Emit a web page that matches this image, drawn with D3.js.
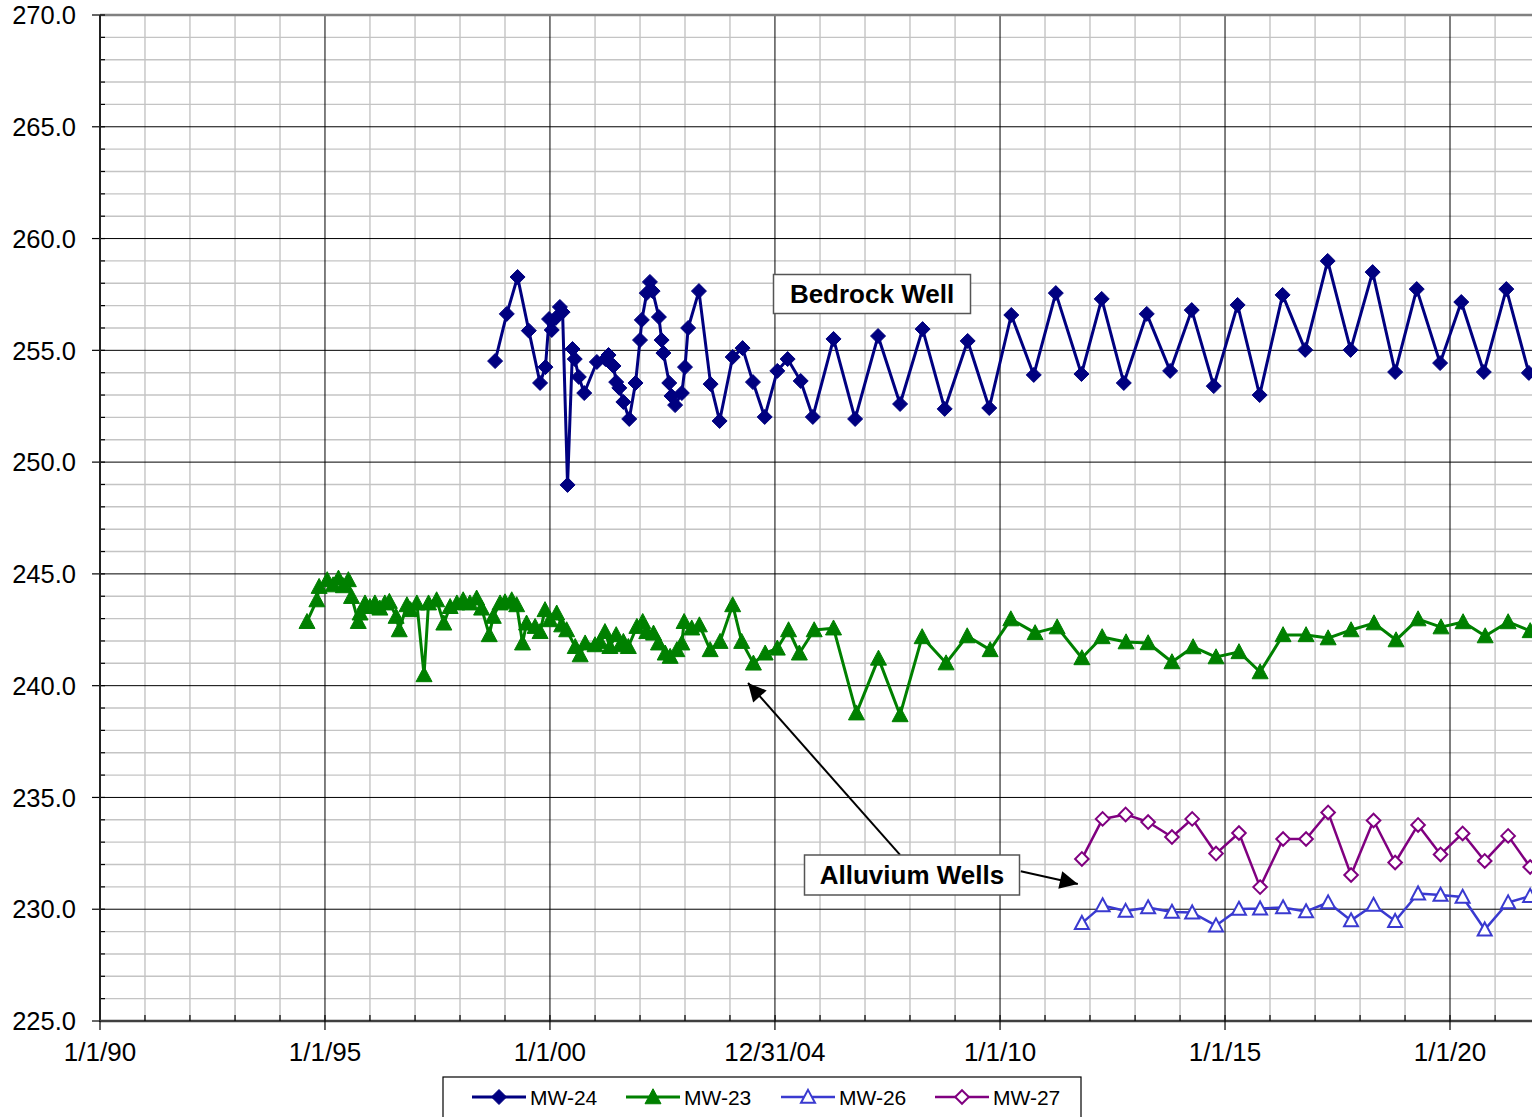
<!DOCTYPE html>
<html><head><meta charset="utf-8">
<script src="https://cdn.jsdelivr.net/npm/d3@7"></script>
<style>body{margin:0;background:#fff;overflow:hidden} svg{display:block}</style>
</head><body><svg id="c" width="1532" height="1117"></svg>
<script>
// ---------------- DATA ----------------
const seriesNames = ["MW-24", "MW-23", "MW-26", "MW-27"];

// decimal year of each measurement
const mw24Time = [1998.78,1999.04,1999.28,1999.53,1999.78,1999.90,1999.98,2000.04,2000.13,2000.22,2000.28,2000.39,2000.50,2000.55,2000.64,2000.76,2001.04,2001.23,2001.30,2001.41,2001.47,2001.54,2001.63,2001.76,2001.90,2002.00,2002.04,2002.15,2002.22,2002.28,2002.42,2002.48,2002.52,2002.65,2002.70,2002.78,2002.93,2003.00,2003.07,2003.31,2003.57,2003.77,2004.06,2004.28,2004.51,2004.77,2005.05,2005.28,2005.57,2005.84,2006.30,2006.78,2007.29,2007.78,2008.28,2008.77,2009.28,2009.76,2010.25,2010.75,2011.24,2011.81,2012.26,2012.75,2013.26,2013.78,2014.26,2014.75,2015.28,2015.77,2016.28,2016.78,2017.28,2017.79,2018.28,2018.78,2019.26,2019.78,2020.25,2020.75,2021.25,2021.75];
const mw24Level = [254.52,256.63,258.28,255.88,253.54,254.25,256.40,255.91,256.45,256.94,256.71,248.98,255.06,254.61,253.81,253.09,254.48,254.61,254.79,254.30,253.58,253.32,252.69,251.93,253.54,255.46,256.36,257.56,258.06,257.65,256.49,255.46,254.88,253.54,252.96,252.55,253.09,254.25,256.00,257.65,253.49,251.84,254.70,255.10,253.58,252.02,254.08,254.61,253.63,252.02,255.51,251.93,255.64,252.60,255.95,252.38,255.42,252.42,256.58,253.90,257.56,253.94,257.30,253.54,256.63,254.08,256.80,253.40,257.03,253.00,257.48,255.02,259.00,255.02,258.50,254.03,257.74,254.43,257.16,254.03,257.74,253.99];

const mw23Time = [1994.60,1994.82,1994.87,1995.05,1995.18,1995.30,1995.41,1995.52,1995.59,1995.74,1995.78,1995.89,1996.00,1996.11,1996.22,1996.33,1996.43,1996.58,1996.65,1996.82,1996.90,1997.04,1997.20,1997.30,1997.48,1997.64,1997.78,1997.93,1998.07,1998.22,1998.37,1998.48,1998.65,1998.74,1998.89,1999.00,1999.15,1999.26,1999.39,1999.48,1999.67,1999.78,1999.89,2000.00,2000.15,2000.26,2000.37,2000.56,2000.67,2000.78,2001.00,2001.11,2001.22,2001.33,2001.47,2001.56,2001.63,2001.74,2001.93,2002.06,2002.15,2002.30,2002.41,2002.56,2002.67,2002.82,2002.93,2002.98,2003.15,2003.32,2003.56,2003.78,2004.06,2004.26,2004.52,2004.78,2005.05,2005.30,2005.54,2005.87,2006.30,2006.81,2007.30,2007.78,2008.27,2008.80,2009.27,2009.78,2010.24,2010.78,2011.27,2011.82,2012.27,2012.80,2013.29,2013.82,2014.29,2014.80,2015.31,2015.78,2016.29,2016.80,2017.29,2017.80,2018.31,2018.80,2019.29,2019.80,2020.29,2020.78,2021.29,2021.78];
const mw23Level = [242.86,243.83,244.43,244.73,244.50,244.80,244.46,244.73,243.98,242.86,243.24,243.69,243.53,243.69,243.46,243.69,243.76,243.09,242.49,243.61,243.39,243.69,240.48,243.69,243.83,242.79,243.53,243.69,243.83,243.69,243.91,243.46,242.27,243.09,243.69,243.74,243.83,243.61,241.90,242.79,242.64,242.41,243.39,242.94,243.24,242.71,242.49,241.74,241.37,241.90,241.82,241.97,242.41,241.74,242.27,241.82,241.97,241.74,242.64,242.86,242.41,242.34,241.90,241.45,241.30,241.60,241.90,242.86,242.57,242.71,241.60,241.97,243.61,241.97,241.00,241.45,241.67,242.49,241.45,242.49,242.57,238.77,241.22,238.69,242.18,241.01,242.22,241.60,242.98,242.36,242.62,241.24,242.18,241.95,241.91,241.06,241.73,241.28,241.51,240.61,242.27,242.27,242.13,242.49,242.80,242.04,242.98,242.62,242.85,242.22,242.85,242.45];

const mw26Time = [2011.82,2012.28,2012.79,2013.29,2013.82,2014.27,2014.80,2015.31,2015.78,2016.29,2016.80,2017.29,2017.80,2018.30,2018.78,2019.29,2019.79,2020.28,2020.77,2021.29,2021.78];
const mw26Level = [229.38,230.17,229.92,230.08,229.88,229.85,229.27,230.01,230.03,230.08,229.90,230.30,229.50,230.19,229.47,230.70,230.64,230.55,229.09,230.30,230.59];

const mw27Time = [2011.82,2012.28,2012.79,2013.29,2013.82,2014.27,2014.80,2015.31,2015.78,2016.29,2016.80,2017.29,2017.80,2018.30,2018.78,2019.29,2019.79,2020.28,2020.77,2021.29,2021.78];
const mw27Level = [232.25,234.04,234.24,233.90,233.23,234.04,232.49,233.41,230.99,233.14,233.14,234.33,231.53,233.97,232.09,233.77,232.45,233.39,232.16,233.28,231.89];

const xTickDates = ["1990-01-01","1995-01-01","2000-01-01","2004-12-31","2010-01-01","2015-01-01","2020-01-01"];
const xTickLabels = ["1/1/90","1/1/95","1/1/00","12/31/04","1/1/10","1/1/15","1/1/20"];
const yTickValues = [225,230,235,240,245,250,255,260,265,270];

// ---------------- SETUP ----------------
function decDate(y){
  const yr = Math.floor(y);
  const s = new Date(yr,0,1), e = new Date(yr+1,0,1);
  return new Date(+s + (y-yr)*(e-s));
}
function parseD(s){ const p = s.split("-").map(Number); return new Date(p[0],p[1]-1,p[2]); }

const L = 100, R = 1532, T = 15, B = 1021;
const svg = d3.select("#c");
const x = d3.scaleTime().domain([new Date(1990,0,1), new Date(2020,0,1)]).range([L, 1450]);
const y = d3.scaleLinear().domain([225,270]).range([B, T]);
const FONT = "Liberation Sans, Arial, sans-serif";

// grid - minor horizontal
const minorY = d3.range(226, 270).filter(v => v % 5 !== 0);
svg.append("g").selectAll("line").data(minorY).join("line")
  .attr("x1", L).attr("x2", R).attr("y1", d => y(d)).attr("y2", d => y(d))
  .attr("stroke", "#c4c4c4").attr("stroke-width", 1.4);
// grid - minor vertical (yearly)
const minorX = d3.range(1991, 2022).filter(v => v % 5 !== 0).map(v => new Date(v,0,1));
svg.append("g").selectAll("line").data(minorX).join("line")
  .attr("x1", d => x(d)).attr("x2", d => x(d)).attr("y1", T).attr("y2", B)
  .attr("stroke", "#c4c4c4").attr("stroke-width", 1.4);
// grid - major horizontal
svg.append("g").selectAll("line").data(yTickValues.filter(v => v > 225 && v < 270)).join("line")
  .attr("x1", L).attr("x2", R).attr("y1", d => y(d)).attr("y2", d => y(d))
  .attr("stroke", "#000").attr("stroke-width", 1);
// grid - major vertical
svg.append("g").selectAll("line").data(xTickDates.slice(1).map(parseD)).join("line")
  .attr("x1", d => x(d)).attr("x2", d => x(d)).attr("y1", T).attr("y2", B)
  .attr("stroke", "#000").attr("stroke-width", 1);

// top border
svg.append("line").attr("x1", L).attr("x2", R).attr("y1", T).attr("y2", T)
  .attr("stroke", "#808080").attr("stroke-width", 2.5);

// Y axis
const yMinorTicks = d3.range(225, 271);
svg.append("g").selectAll("line").data(yMinorTicks).join("line")
  .attr("x1", L).attr("x2", L + 5).attr("y1", d => y(d)).attr("y2", d => y(d))
  .attr("stroke", "#000").attr("stroke-width", 1.2);
svg.append("g").selectAll("line").data(yTickValues).join("line")
  .attr("x1", L - 8).attr("x2", L).attr("y1", d => y(d)).attr("y2", d => y(d))
  .attr("stroke", "#000").attr("stroke-width", 1.2);
svg.append("g").selectAll("text").data(yTickValues).join("text")
  .attr("x", 76).attr("y", d => y(d)).attr("dy", "0.36em")
  .attr("text-anchor", "end").attr("font-family", FONT).attr("font-size", 25.5)
  .attr("fill", "#000").text(d => d.toFixed(1));
svg.append("line").attr("x1", L).attr("x2", L).attr("y1", T).attr("y2", B + 1)
  .attr("stroke", "#222").attr("stroke-width", 2);

// X axis
svg.append("line").attr("x1", L).attr("x2", R).attr("y1", B).attr("y2", B)
  .attr("stroke", "#404040").attr("stroke-width", 2.5);
svg.append("g").selectAll("line").data(d3.range(1991, 2022).map(v => new Date(v,0,1))).join("line")
  .attr("x1", d => x(d)).attr("x2", d => x(d)).attr("y1", B - 6).attr("y2", B)
  .attr("stroke", "#000").attr("stroke-width", 1.2);
svg.append("g").selectAll("line").data(xTickDates.map(parseD)).join("line")
  .attr("x1", d => x(d)).attr("x2", d => x(d)).attr("y1", B).attr("y2", B + 9)
  .attr("stroke", "#000").attr("stroke-width", 1.2);
svg.append("g").selectAll("text").data(xTickDates).join("text")
  .attr("x", d => x(parseD(d))).attr("y", 1061)
  .attr("text-anchor", "middle").attr("font-family", FONT).attr("font-size", 26)
  .attr("fill", "#000").text((d, i) => xTickLabels[i]);

// ---------------- SERIES ----------------
const diamond = r => `M0,${-r}L${r},0L0,${r}L${-r},0Z`;
const triangle = (w, h) => `M0,${-h*0.55}L${w/2},${h*0.45}L${-w/2},${h*0.45}Z`;

const series = [
  {name: seriesNames[0], t: mw24Time, v: mw24Level, color: "#000080", lw: 3, path: diamond(7.5), fill: "#000080", mw: 1},
  {name: seriesNames[1], t: mw23Time, v: mw23Level, color: "#008000", lw: 3, path: triangle(16, 15), fill: "#008000", mw: 1},
  {name: seriesNames[2], t: mw26Time, v: mw26Level, color: "#3a3ad0", lw: 2.5, path: triangle(14, 13), fill: "#fff", mw: 2},
  {name: seriesNames[3], t: mw27Time, v: mw27Level, color: "#800080", lw: 2.5, path: diamond(6.8), fill: "#fff", mw: 2}
];

svg.append("clipPath").attr("id", "pc").append("rect")
  .attr("x", L).attr("y", 0).attr("width", R - L + 20).attr("height", 1117);

const line = d3.line().x(d => x(d[0])).y(d => y(d[1]));
const drawOrder = [1, 0, 2, 3];
drawOrder.forEach(i => {
  const s = series[i];
  const pts = s.t.map((t, k) => [decDate(t), s.v[k]]);
  const g = svg.append("g").attr("clip-path", "url(#pc)");
  g.append("path").datum(pts).attr("d", line).attr("fill", "none")
    .attr("stroke", s.color).attr("stroke-width", s.lw).attr("stroke-linejoin", "round");
  g.selectAll("path.m").data(pts).join("path").attr("class", "m")
    .attr("transform", d => `translate(${x(d[0])},${y(d[1])})`)
    .attr("d", s.path).attr("fill", s.fill).attr("stroke", s.color).attr("stroke-width", s.mw);
});

// ---------------- ANNOTATIONS ----------------
svg.append("defs").append("marker").attr("id", "ah").attr("viewBox", "0 0 10 10")
  .attr("refX", 10).attr("refY", 5).attr("markerWidth", 28).attr("markerHeight", 18)
  .attr("markerUnits", "userSpaceOnUse").attr("orient", "auto")
  .append("path").attr("d", "M0,0L10,5L0,10Z").attr("fill", "#000");

function arrow(t0, v0, t1, v1){
  svg.append("line").attr("x1", x(decDate(t0))).attr("y1", y(v0))
    .attr("x2", x(decDate(t1))).attr("y2", y(v1))
    .attr("stroke", "#000").attr("stroke-width", 2).attr("marker-end", "url(#ah)");
}
arrow(2007.78, 232.43, 2004.40, 240.12);
arrow(2010.46, 231.70, 2011.73, 231.13);

function label(txt, cx, cy, w, h){
  svg.append("rect").attr("x", cx - w/2).attr("y", cy - h/2).attr("width", w).attr("height", h)
    .attr("fill", "#fff").attr("stroke", "#555").attr("stroke-width", 1.5);
  svg.append("text").attr("x", cx).attr("y", cy).attr("dy", "0.36em")
    .attr("text-anchor", "middle").attr("font-family", FONT).attr("font-weight", "bold")
    .attr("font-size", 26).attr("fill", "#000").text(txt);
}
label("Bedrock Well", 872, 294, 197, 39);
label("Alluvium Wells", 912, 875, 215, 40);

// ---------------- LEGEND ----------------
const lg = svg.append("g");
lg.append("rect").attr("x", 443).attr("y", 1077).attr("width", 638).attr("height", 60)
  .attr("fill", "#fff").attr("stroke", "#000").attr("stroke-width", 1.2);
const legX = [472, 626, 781, 935];
series.forEach((s, i) => {
  const gx = legX[i];
  lg.append("line").attr("x1", gx).attr("x2", gx + 54).attr("y1", 1097).attr("y2", 1097)
    .attr("stroke", s.color).attr("stroke-width", s.lw);
  lg.append("path").attr("transform", `translate(${gx + 27},1097)`)
    .attr("d", s.path).attr("fill", s.fill).attr("stroke", s.color).attr("stroke-width", s.mw);
  lg.append("text").attr("x", gx + 58).attr("y", 1097).attr("dy", "0.36em")
    .attr("font-family", FONT).attr("font-size", 21).attr("fill", "#000").text(s.name);
});
</script>
</body></html>
